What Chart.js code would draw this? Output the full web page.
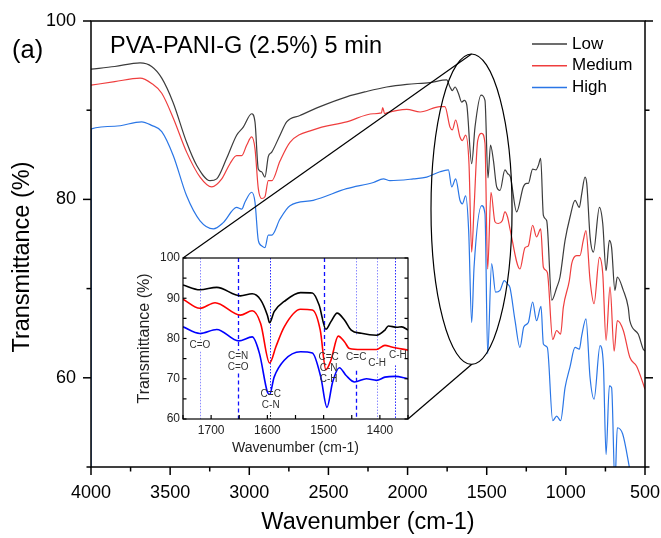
<!DOCTYPE html>
<html>
<head>
<meta charset="utf-8">
<script src="https://cdn.jsdelivr.net/npm/chart.js@4"></script>
<style>
  html, body { margin: 0; padding: 0; background: #fff; }
  #wrap { position: relative; width: 661px; height: 538px; }
  #main { position: absolute; left: 0; top: 0; }
  #insetBox { position: absolute; left: 120px; top: 250px; width: 300px; height: 215px; }
</style>
</head>
<body>
<div id="wrap">
  <canvas id="main" width="661" height="538"></canvas>
  <div id="insetBox"><canvas id="inset" width="300" height="215"></canvas></div>
</div>
<script>
// FTIR spectra, [wavenumber, transmittance]
const seriesNames = ['Low', 'Medium', 'High'];

const lowPoints = [[4000,94.6],[3850,94.9],[3690,95.3],[3617,94.9],[3553,93.6],[3482,90.9],[3396,86.4],[3332,83.8],[3248,82.1],[3206,82.3],[3143,84.6],[3080,87.2],[3038,88.1],[2985,89.6],[2964,88.7],[2943,83.4],[2922,83.1],[2901,82.5],[2880,84.8],[2858,85.3],[2806,87.2],[2764,88.7],[2680,89.4],[2553,90.4],[2385,91.5],[2258,92.1],[2132,92.6],[2005,92.9],[1858,93.1],[1753,93.4],[1732,92.6],[1717,92.2],[1700,92.6],[1679,91.9],[1658,90.9],[1642,91.1],[1626,90.6],[1595,84.0],[1574,88.1],[1536,91.7],[1511,91.1],[1492,82.4],[1476,86.1],[1458,84.4],[1437,81.4],[1416,81.0],[1385,83.3],[1368,82.9],[1350,82.5],[1311,78.6],[1269,81.4],[1248,81.8],[1237,81.8],[1210,83.4],[1189,83.3],[1174,83.8],[1159,84.6],[1142,78.2],[1121,77.6],[1089,68.7],[1058,70.1],[1037,71.3],[1005,75.4],[974,78.0],[942,79.9],[915,79.1],[900,80.6],[879,82.5],[868,81.8],[847,75.8],[826,74.1],[788,79.1],[767,77.3],[746,72.0],[725,75.4],[711,74.6],[690,69.8],[675,71.3],[637,69.8],[606,67.9],[596,66.4],[543,64.9],[511,63.2],[500,63.0]];

const mediumPoints = [[4000,92.8],[3850,93.2],[3690,93.6],[3617,93.0],[3553,91.9],[3480,89.1],[3396,85.3],[3311,82.5],[3237,81.4],[3174,82.3],[3122,84.0],[3080,84.9],[3048,84.9],[3016,86.1],[2985,87.0],[2964,85.7],[2943,81.2],[2922,80.1],[2901,80.3],[2880,82.1],[2858,82.1],[2806,84.3],[2743,86.4],[2596,87.8],[2385,88.7],[2216,89.6],[2165,89.7],[2157,90.3],[2145,89.6],[2132,89.7],[2005,90.1],[1921,89.8],[1795,90.4],[1764,90.4],[1732,88.1],[1717,87.8],[1696,88.9],[1669,87.0],[1654,86.6],[1633,87.2],[1612,84.0],[1595,74.1],[1580,79.0],[1557,86.6],[1532,87.4],[1511,86.3],[1494,72.2],[1473,80.8],[1448,77.5],[1427,77.3],[1402,77.6],[1385,78.6],[1368,78.0],[1353,76.7],[1290,72.2],[1258,74.6],[1237,74.8],[1210,77.1],[1185,75.8],[1159,76.7],[1142,72.4],[1117,71.8],[1083,64.3],[1058,65.3],[1033,64.9],[1016,67.9],[978,70.9],[963,72.8],[932,73.7],[911,73.7],[890,75.4],[873,76.5],[847,70.9],[822,68.3],[788,73.5],[767,71.7],[746,64.2],[721,70.2],[695,63.0],[675,66.4],[637,65.3],[596,62.3],[553,61.3],[511,59.3],[500,58.7]];

const highPoints = [[4000,45],[3998,87.9],[3850,88.2],[3680,88.7],[3617,88.3],[3553,87.6],[3480,84.9],[3396,80.4],[3311,77.6],[3227,76.7],[3164,77.4],[3080,79.1],[3048,78.9],[3027,79.7],[2985,80.8],[2964,79.7],[2943,75.4],[2922,74.8],[2901,74.6],[2880,76.0],[2858,76.0],[2806,77.8],[2743,79.3],[2596,79.9],[2385,81.2],[2216,81.9],[2153,82.3],[2111,82.1],[1964,82.3],[1879,82.5],[1795,83.1],[1742,83.3],[1721,81.4],[1696,82.3],[1669,79.9],[1654,79.5],[1633,80.4],[1614,76.5],[1595,66.2],[1580,72.4],[1532,79.3],[1511,78.4],[1494,62.7],[1469,72.8],[1444,69.6],[1416,69.8],[1389,70.9],[1368,70.5],[1353,70.1],[1321,66.4],[1290,63.4],[1266,65.7],[1237,66.2],[1210,68.5],[1185,66.4],[1157,68.0],[1142,63.8],[1117,63.4],[1083,55.2],[1058,55.7],[1033,55.2],[1005,58.9],[974,61.2],[942,63.4],[915,63.2],[900,64.7],[873,66.6],[847,60.0],[822,57.6],[784,63.6],[763,61.5],[746,51.4],[725,59.1],[711,58.9],[690,48.0],[675,54.4],[641,53.7],[599,50.0],[560,46],[500,43]];

// zoomed inset 1750-1350 cm-1
const insetLowPoints = [[1750,93.3],[1720,92.1],[1690,92.7],[1648,90.6],[1627,91.1],[1612,89.6],[1600,85.8],[1596,83.9],[1588,86.7],[1570,89.2],[1541,91.4],[1520,91.3],[1508,88.3],[1496,82.3],[1487,84.2],[1476,86.3],[1463,84.6],[1451,82.1],[1433,81.3],[1406,80.8],[1391,82.1],[1385,83.1],[1370,82.8],[1361,82.9],[1350,82.1]];
const insetMediumPoints = [[1750,89.75],[1720,87.5],[1693,88.9],[1648,85.8],[1627,86.9],[1612,83.75],[1596,73.9],[1585,77.9],[1570,82.9],[1541,87.25],[1520,87.1],[1506,82.1],[1496,72.25],[1487,74.6],[1474,80.6],[1463,79.2],[1454,77.5],[1433,77.25],[1406,77.25],[1391,78.3],[1379,77.9],[1350,77.1]];
const insetHighPoints = [[1750,82.9],[1720,81.25],[1690,82.25],[1651,79.4],[1627,80.4],[1614,76.25],[1600,66.7],[1596,66.1],[1588,70.4],[1570,74.6],[1541,76.7],[1520,76.4],[1505,70.4],[1494,62.9],[1484,69.2],[1472,72.75],[1460,70.8],[1445,69.2],[1424,70.0],[1406,69.6],[1391,70.4],[1373,70.6],[1350,70.0]];

const mainXTicks = [4000, 3500, 3000, 2500, 2000, 1500, 1000, 500];
const mainYTicks = [60, 80, 100];
const insetXTicks = [1700, 1600, 1500, 1400];
const insetYTicks = [60, 70, 80, 90, 100];

// band assignments in the inset: position, label lines, where the text sits
const bands = [
  { wn: 1720, text: ['C=O'], at: 78.3 },
  { wn: 1652, text: ['C=N', 'C=O'], at: 75.6 },
  { wn: 1594, text: ['C=C', 'C-N'], at: 66.1 },
  { wn: 1491, text: ['C=C', 'C-N', 'C-H'], at: 75.4 },
  { wn: 1442, text: ['C=C'], at: 75.4 },
  { wn: 1405, text: ['C-H'], at: 73.9 },
  { wn: 1368, text: ['C-H'], at: 75.8 }
];
// marker line pieces [wn, fromT, toT, style]
const bandLines = [
  [1720, 100, 79.6, 'light'], [1720, 76.7, 60, 'light'],
  [1652, 100, 77, 'dash'], [1652, 71.3, 60, 'dash'],
  [1596, 100, 67.5, 'dot'], [1596, 61.7, 60, 'black'],
  [1500, 100, 77.1, 'dash'],
  [1442, 100, 81, 'light'], [1442, 72, 60, 'dash'],
  [1406, 100, 75, 'light'], [1406, 71.3, 60, 'light'],
  [1373, 100, 77, 'dot'], [1373, 73.3, 60, 'dot']
];

const FONT = '"Liberation Sans", Arial, sans-serif';
const INSET_LEFT = 120, INSET_TOP = 250;
const mainColors = ['#3c3c3c', '#ef3e3e', '#2a76e6'];
const insetColors = ['#000000', '#ff0000', '#0000ff'];

function toXY(pairs) { return pairs.map(([x, y]) => ({ x, y })); }

function seg(ctx, x1, y1, x2, y2) {
  ctx.beginPath(); ctx.moveTo(x1, y1); ctx.lineTo(x2, y2); ctx.stroke();
}

// pin the axis box sizes and drop the label overhang padding
function fixX(h) {
  return s => { s.height = h; s.paddingLeft = 0; s.paddingRight = 0; };
}
function fixY(w) {
  return s => { s.width = w; s.paddingTop = 0; s.paddingBottom = 0; };
}

const lineStyles = {
  light: { color: '#8c8cff', dash: [1.5, 1.5], width: 1 },
  dot: { color: '#2a2aff', dash: [1.5, 1.5], width: 1 },
  dash: { color: '#1010ff', dash: [4, 3], width: 1.3 },
  black: { color: '#000', dash: [1.5, 1.5], width: 1 }
};

const insetDecor = {
  id: 'insetDecor',
  beforeDatasetsDraw(chart) {
    const { ctx, scales: { x, y } } = chart;
    ctx.save();
    bandLines.forEach(([wn, t1, t2, st]) => {
      const s = lineStyles[st];
      ctx.strokeStyle = s.color; ctx.lineWidth = s.width; ctx.setLineDash(s.dash);
      const px = Math.round(x.getPixelForValue(wn)) + 0.5;
      seg(ctx, px, y.getPixelForValue(t1), px, y.getPixelForValue(t2));
    });
    ctx.restore();
  },
  afterDatasetsDraw(chart) {
    const { ctx, chartArea: a, scales: { x, y } } = chart;
    ctx.save();
    ctx.strokeStyle = '#000'; ctx.lineWidth = 1.2;
    ctx.strokeRect(a.left, a.top, a.right - a.left, a.bottom - a.top);
    for (let v = 60; v <= 100; v += 5) {
      const py = y.getPixelForValue(v);
      seg(ctx, a.left, py, a.left + 3.5, py);
      seg(ctx, a.right, py, a.right - 3.5, py);
    }
    for (let v = 1350; v <= 1750; v += 50) {
      const px = x.getPixelForValue(v);
      seg(ctx, px, a.bottom, px, a.bottom - 4);
    }
    ctx.fillStyle = '#333';
    ctx.font = '10px ' + FONT;
    ctx.textAlign = 'center'; ctx.textBaseline = 'middle';
    bands.forEach(b => {
      const px = x.getPixelForValue(b.wn);
      const py0 = y.getPixelForValue(b.at);
      b.text.forEach((t, i) => ctx.fillText(t, px, py0 + i * 11));
    });
    ctx.restore();
  }
};

const insetChart = new Chart(document.getElementById('inset'), {
  type: 'line',
  data: {
    datasets: [insetLowPoints, insetMediumPoints, insetHighPoints].map((pts, i) => ({
      label: seriesNames[i],
      data: toXY(pts),
      borderColor: insetColors[i],
      borderWidth: 1.6
    }))
  },
  options: {
    responsive: false,
    animation: false,
    events: [],
    layout: { padding: { top: 8, right: 12, left: 0, bottom: 0 } },
    elements: { point: { radius: 0 }, line: { cubicInterpolationMode: 'monotone', fill: false } },
    plugins: { legend: { display: false }, tooltip: { enabled: false } },
    scales: {
      x: {
        type: 'linear', reverse: true, min: 1350, max: 1750,
        afterBuildTicks: s => { s.ticks = insetXTicks.map(v => ({ value: v })); },
        ticks: { font: { family: FONT, size: 12 }, color: '#222', padding: 4, maxRotation: 0, autoSkip: false, callback: v => String(v) },
        grid: { display: false, drawTicks: false },
        border: { display: false },
        title: { display: true, text: 'Wavenumber (cm-1)', color: '#222', font: { family: FONT, size: 14 }, padding: { top: 0, bottom: 8 } },
        afterFit: fixX(46)
      },
      y: {
        min: 60, max: 100,
        afterBuildTicks: s => { s.ticks = insetYTicks.map(v => ({ value: v })); },
        ticks: { font: { family: FONT, size: 12 }, color: '#222', padding: 3, callback: v => String(v) },
        grid: { display: false, drawTicks: false },
        border: { display: false },
        title: { display: true, text: 'Transmittance (%)', color: '#222', font: { family: FONT, size: 16 }, padding: { top: 15, bottom: 0 } },
        afterFit: fixY(63)
      }
    }
  },
  plugins: [insetDecor]
});

const mainDecor = {
  id: 'mainDecor',
  afterDatasetsDraw(chart) {
    const { ctx, chartArea: a, scales: { x, y } } = chart;
    ctx.save();
    ctx.strokeStyle = '#000'; ctx.lineWidth = 1.5;
    ctx.strokeRect(a.left, a.top, a.right - a.left, a.bottom - a.top);
    for (let v = 50; v <= 100; v += 10) {
      const py = y.getPixelForValue(v);
      const len = v % 20 === 0 ? 8 : 4.5;
      seg(ctx, a.left - len, py, a.left, py);
      seg(ctx, a.right, py, a.right + len, py);
    }
    for (let v = 500; v <= 4000; v += 250) {
      const px = x.getPixelForValue(v);
      const len = v % 500 === 0 ? 8 : 4.5;
      seg(ctx, px, a.bottom, px, a.bottom + len);
    }

    // zoom ellipse and connectors to the inset
    const cx = x.getPixelForValue(1596), cy = y.getPixelForValue(78.9);
    const rx = Math.abs(x.getPixelForValue(1596 + 256) - cx);
    const ry = Math.abs(y.getPixelForValue(78.9 + 17.4) - cy);
    ctx.lineWidth = 1.2;
    ctx.beginPath(); ctx.ellipse(cx, cy, rx, ry, 0, 0, Math.PI * 2); ctx.stroke();
    const ia = insetChart.chartArea;
    seg(ctx, cx, cy - ry, INSET_LEFT + ia.left, INSET_TOP + ia.top);
    seg(ctx, cx, cy + ry, INSET_LEFT + ia.right, INSET_TOP + ia.bottom);

    // legend
    ctx.font = '17px ' + FONT;
    ctx.textAlign = 'left'; ctx.textBaseline = 'middle';
    chart.data.datasets.forEach((ds, i) => {
      const ly = 44 + i * 21.7;
      ctx.strokeStyle = ds.borderColor; ctx.lineWidth = 1.5;
      seg(ctx, 532, ly, 567, ly);
      ctx.fillStyle = '#000';
      ctx.fillText(ds.label, 572, ly);
    });

    // panel tag and sample name
    ctx.textBaseline = 'alphabetic';
    ctx.font = '25.5px ' + FONT;
    ctx.fillText('(a)', 12, 58);
    ctx.font = '23.5px ' + FONT;
    ctx.fillText('PVA-PANI-G (2.5%) 5 min', 110, 53);
    ctx.restore();
  }
};

new Chart(document.getElementById('main'), {
  type: 'line',
  data: {
    datasets: [lowPoints, mediumPoints, highPoints].map((pts, i) => ({
      label: seriesNames[i],
      data: toXY(pts),
      borderColor: mainColors[i],
      borderWidth: 1.2
    }))
  },
  options: {
    responsive: false,
    animation: false,
    events: [],
    layout: { padding: { top: 21, right: 16, left: 0, bottom: 0 } },
    elements: { point: { radius: 0 }, line: { cubicInterpolationMode: 'monotone', fill: false } },
    plugins: { legend: { display: false }, tooltip: { enabled: false } },
    scales: {
      x: {
        type: 'linear', reverse: true, min: 500, max: 4000,
        afterBuildTicks: s => { s.ticks = mainXTicks.map(v => ({ value: v })); },
        ticks: { font: { family: FONT, size: 18 }, color: '#000', padding: 15, maxRotation: 0, autoSkip: false, callback: v => String(v) },
        grid: { display: false, drawTicks: false },
        border: { display: false },
        title: { display: true, text: 'Wavenumber (cm-1)', color: '#000', font: { family: FONT, size: 23.5 }, padding: { top: 0, bottom: 1 } },
        afterFit: fixX(71)
      },
      y: {
        min: 50, max: 100,
        afterBuildTicks: s => { s.ticks = mainYTicks.map(v => ({ value: v })); },
        ticks: { font: { family: FONT, size: 18 }, color: '#000', padding: 15, callback: v => String(v) },
        grid: { display: false, drawTicks: false },
        border: { display: false },
        // trailing spaces push the rotated title a little lower, as in the figure
        title: { display: true, text: 'Transmittance (%)    ', color: '#000', font: { family: FONT, size: 23.5 }, padding: { top: 8, bottom: 0 } },
        afterFit: fixY(91)
      }
    }
  },
  plugins: [mainDecor]
});
</script>
</body>
</html>
